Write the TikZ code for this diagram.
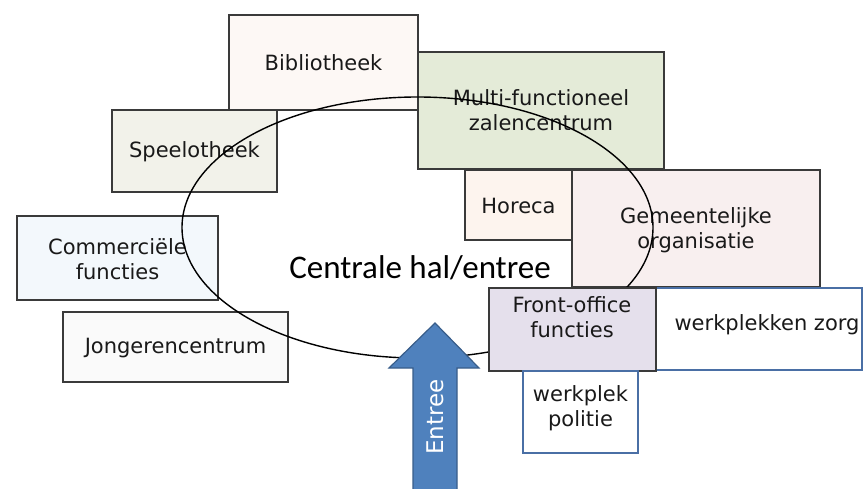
\documentclass[tikz,border=0pt]{standalone}
\usepackage{fontspec}
\setmainfont{DejaVu Sans}
\newfontfamily\calib{Carlito}
\definecolor{bibfill}{HTML}{FDF8F5}
\definecolor{spefill}{HTML}{F2F2EA}
\definecolor{mfzfill}{HTML}{E4EBD8}
\definecolor{comfill}{HTML}{F3F8FC}
\definecolor{jonfill}{HTML}{FAFAFA}
\definecolor{horfill}{HTML}{FDF4EE}
\definecolor{gemfill}{HTML}{F8EFEF}
\definecolor{fofill}{HTML}{E5E0EC}
\definecolor{boxline}{HTML}{3A3A3A}
\definecolor{blueline}{HTML}{4A6FA5}
\definecolor{arrowfill}{HTML}{4F81BD}
\definecolor{arrowline}{HTML}{385D8A}
\begin{document}
\begin{tikzpicture}[x=1pt,y=-1pt,
  fbox/.style={draw=boxline,line width=1.5pt},
  lbl/.style={font=\fontsize{21}{25}\selectfont,align=center,text=black!90,inner sep=0pt},
]
\useasboundingbox (0,0) rectangle (865,489);
% back boxes
\draw[fbox,fill=bibfill] (229,15) rectangle (418,110);
\node[lbl] (bib) at (323.5,63) {Bibliotheek};
\draw[fbox,fill=mfzfill] (418,52) rectangle (664,169);
\node[lbl] (mfz) at (541,110) {Multi-functioneel\\zalencentrum};
\draw[fbox,fill=spefill] (112,110) rectangle (277,192);
\node[lbl] (spe) at (194.5,152) {Speelotheek};
\draw[fbox,fill=comfill] (17,216) rectangle (218,300);
\node[lbl] (com) at (117.5,259) {Commerciële\\functies};
\draw[fbox,fill=jonfill] (63,312) rectangle (288,382);
\node[lbl] (jon) at (175.5,348) {Jongerencentrum};
\draw[fbox,fill=horfill] (465,170) rectangle (572,240);
\node[lbl] (hor) at (518.5,206) {Horeca};
\draw[fbox,fill=gemfill] (572,170) rectangle (820,287);
\node[lbl] (gem) at (696,230) {Gemeentelijke\\organisatie};
% central hall ellipse
\draw[line width=1.4pt] (417.5,227.5) ellipse [x radius=235.5pt, y radius=130.5pt];
\node[font=\calib\fontsize{33}{36}\selectfont,inner sep=0pt] (hal) at (420,268) {Centrale hal/entree};
% front boxes
\draw[line width=1.3pt,draw=blueline,fill=white] (655,288) rectangle (862,370);
\node[lbl] (zorg) at (767,325) {werkplekken zorg};
\draw[fbox,fill=fofill] (489,288) rectangle (656,371);
\node[lbl] (fo) at (572,317) {Front-office\\functies};
\draw[line width=1.3pt,draw=blueline,fill=white] (523,371) rectangle (638,453);
\node[lbl] (pol) at (580.5,408) {werkplek\\politie};
% entrance arrow
\draw[fill=arrowfill,draw=arrowline,line width=1.2pt]
  (413,492) -- (413,368) -- (389,368) -- (435,323) -- (479,368) -- (457,368) -- (457,492) -- cycle;
\node[rotate=90,text=white,font=\fontsize{23}{26}\selectfont,inner sep=0pt] (entree) at (435,417) {Entree};
\end{tikzpicture}
\end{document}
